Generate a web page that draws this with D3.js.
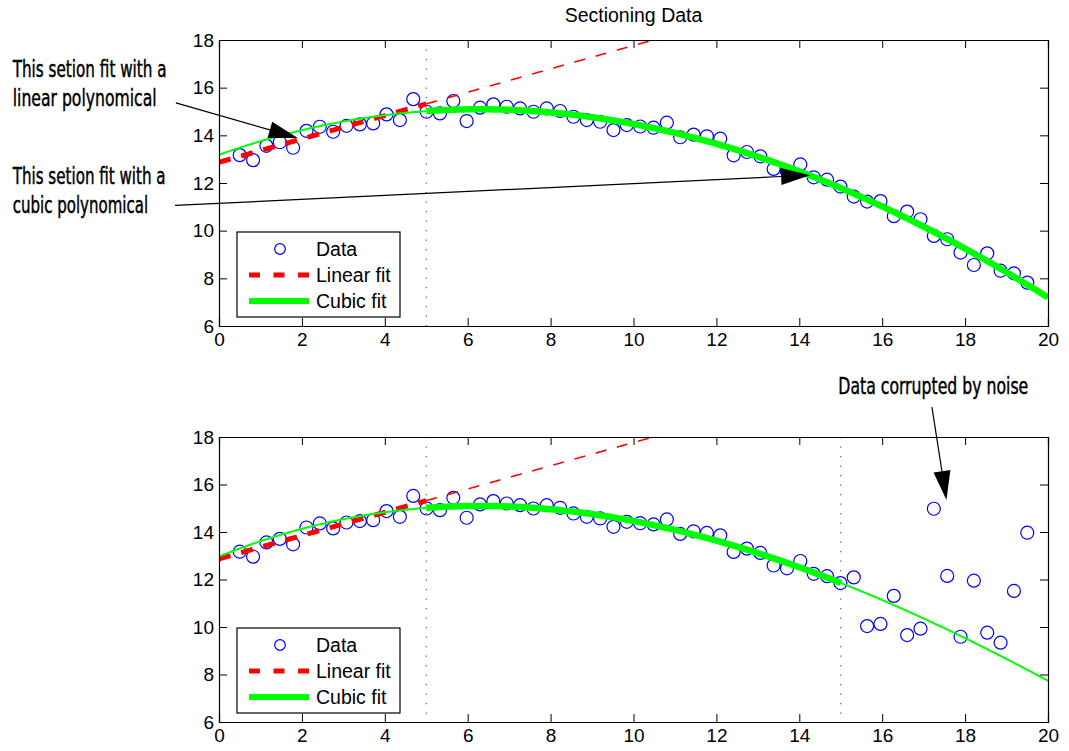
<!DOCTYPE html>
<html><head><meta charset="utf-8">
<script src="https://cdn.jsdelivr.net/npm/d3@7"></script>
<style>
html,body{margin:0;padding:0;background:#fff;}
svg{display:block;}
</style></head>
<body>
<svg id="chart" width="1069" height="751"></svg>
<script>
// ---------------- data ----------------
const xValues = [0.500,0.822,1.144,1.466,1.788,2.110,2.432,2.754,3.076,3.398,3.720,4.042,4.364,4.686,5.008,
  5.331,5.653,5.975,6.297,6.619,6.941,7.263,7.585,7.907,8.229,8.551,8.873,9.195,9.517,9.839,
  10.161,10.483,10.805,11.127,11.449,11.771,12.093,12.415,12.737,13.059,13.381,13.703,14.025,14.347,14.669,
  14.992,15.314,15.636,15.958,16.280,16.602,16.924,17.246,17.568,17.890,18.212,18.534,18.856,19.178,19.500];
const yClean = [13.17,12.96,13.56,13.71,13.48,14.19,14.36,14.15,14.40,14.46,14.50,14.88,14.64,15.52,14.99,
  14.92,15.44,14.60,15.16,15.30,15.20,15.13,14.99,15.13,15.02,14.78,14.64,14.57,14.22,14.43,
  14.37,14.32,14.53,13.92,14.03,13.96,13.86,13.16,13.30,13.12,12.59,12.47,12.78,12.24,12.14,
  11.85,11.43,11.22,11.24,10.61,10.80,10.48,9.78,9.64,9.08,8.56,9.05,8.32,8.21,7.82];
// bottom panel: same data up to x=15, noise afterwards
const yNoisyTail = [12.09,10.04,10.13,11.31,9.66,9.93,14.98,12.15,9.59,11.95,9.76,9.34,11.52,13.97];
const yNoisy = yClean.slice(0, 46).concat(yNoisyTail);

const xTicks = [0,2,4,6,8,10,12,14,16,18,20];
const yTicks = [6,8,10,12,14,16,18];
const legendLabels = ["Data","Linear fit","Cubic fit"];
const titleText = "Sectioning Data";

// ---------------- layout ----------------
const axLeft = 219, axRight = 1048;
const panels = [
  {top: 40, bottom: 326, y: yClean, cubicRange: [5, 20], sections: [5]},
  {top: 437, bottom: 722, y: yNoisy, cubicRange: [5, 15], sections: [5, 15]}
];
const FONT = "'Liberation Sans', Arial, Helvetica, sans-serif";
const NARROW = "'Liberation Sans Narrow', 'Arial Narrow', 'DejaVu Sans Condensed', sans-serif";

function polyfit(xs, ys, deg) {
  const n = deg + 1;
  const A = Array.from({length: n}, () => new Array(n).fill(0));
  const b = new Array(n).fill(0);
  xs.forEach((x, k) => {
    for (let i = 0; i < n; i++) {
      b[i] += ys[k] * Math.pow(x, i);
      for (let j = 0; j < n; j++) A[i][j] += Math.pow(x, i + j);
    }
  });
  for (let c = 0; c < n; c++) {
    let p = c;
    for (let r = c + 1; r < n; r++) if (Math.abs(A[r][c]) > Math.abs(A[p][c])) p = r;
    [A[c], A[p]] = [A[p], A[c]]; [b[c], b[p]] = [b[p], b[c]];
    for (let r = c + 1; r < n; r++) {
      const f = A[r][c] / A[c][c];
      for (let j = c; j < n; j++) A[r][j] -= f * A[c][j];
      b[r] -= f * b[c];
    }
  }
  const coef = new Array(n).fill(0);
  for (let i = n - 1; i >= 0; i--) {
    let s = b[i];
    for (let j = i + 1; j < n; j++) s -= A[i][j] * coef[j];
    coef[i] = s / A[i][i];
  }
  return x => coef.reduce((acc, c, i) => acc + c * Math.pow(x, i), 0);
}
function samples(a, b) { const s = d3.range(a, b, 0.05); s.push(b); return s; }

const svg = d3.select("#chart");

svg.append("text").attr("x", (axLeft + axRight) / 2).attr("y", 22)
  .attr("text-anchor", "middle").attr("font-family", FONT).attr("font-size", 19.5)
  .text(titleText);

panels.forEach((p, pi) => {
  const x = d3.scaleLinear().domain([0, 20]).range([axLeft, axRight]);
  const y = d3.scaleLinear().domain([6, 18]).range([p.bottom, p.top]);
  p.x = x; p.y_ = y;
  const g = svg.append("g");
  const clipId = "clip" + pi;
  svg.append("clipPath").attr("id", clipId).append("rect")
    .attr("x", axLeft).attr("y", p.top).attr("width", axRight - axLeft).attr("height", p.bottom - p.top);

  // section lines
  p.sections.forEach(s => {
    g.append("line").attr("x1", x(s)).attr("x2", x(s)).attr("y1", p.top).attr("y2", p.bottom)
      .attr("stroke", "#444").attr("stroke-width", 1).attr("stroke-dasharray", "1.3,8.2");
  });

  const plot = g.append("g").attr("clip-path", `url(#${clipId})`);
  // data
  plot.selectAll("circle").data(xValues.map((xv, i) => [xv, p.y[i]])).join("circle")
    .attr("cx", d => x(d[0])).attr("cy", d => y(d[1])).attr("r", 6.5)
    .attr("fill", "none").attr("stroke", "#0000ff").attr("stroke-width", 1.2);

  // linear fit on x<5
  const linIdx = xValues.map((v, i) => i).filter(i => xValues[i] < 5);
  const lin = polyfit(linIdx.map(i => xValues[i]), linIdx.map(i => p.y[i]), 1);
  const line = d3.line().x(d => x(d)).y(d => y(lin(d)));
  plot.append("path").attr("d", line(samples(5, 20))).attr("fill", "none")
    .attr("stroke", "#ff0000").attr("stroke-width", 1.6).attr("stroke-dasharray", "11,11");
  plot.append("path").attr("d", line(samples(0, 5))).attr("fill", "none")
    .attr("stroke", "#ff0000").attr("stroke-width", 5).attr("stroke-dasharray", "12,11");

  // cubic fit
  const [c0, c1] = p.cubicRange;
  const cubIdx = xValues.map((v, i) => i).filter(i => xValues[i] >= c0 && xValues[i] <= c1);
  const cub = polyfit(cubIdx.map(i => xValues[i]), cubIdx.map(i => p.y[i]), 3);
  const cline = d3.line().x(d => x(d)).y(d => y(cub(d)));
  plot.append("path").attr("d", cline(samples(0, c0))).attr("fill", "none")
    .attr("stroke", "#00ff00").attr("stroke-width", 2);
  if (c1 < 20) plot.append("path").attr("d", cline(samples(c1, 20))).attr("fill", "none")
    .attr("stroke", "#00ff00").attr("stroke-width", 2);
  plot.append("path").attr("d", cline(samples(c0, c1))).attr("fill", "none")
    .attr("stroke", "#00ff00").attr("stroke-width", 6.5);

  // axes
  const tick = 8;
  const axB = g.append("g").attr("transform", `translate(0,${p.bottom})`)
    .call(d3.axisBottom(x).tickValues(xTicks).tickSize(-tick).tickPadding(7).tickFormat(d3.format("d")));
  const axT = g.append("g").attr("transform", `translate(0,${p.top})`)
    .call(d3.axisTop(x).tickValues(xTicks).tickSize(-tick).tickFormat(""));
  const axL = g.append("g").attr("transform", `translate(${axLeft},0)`)
    .call(d3.axisLeft(y).tickValues(yTicks).tickSize(-tick).tickPadding(5).tickFormat(d3.format("d")));
  const axR = g.append("g").attr("transform", `translate(${axRight},0)`)
    .call(d3.axisRight(y).tickValues(yTicks).tickSize(-tick).tickFormat(""));
  [axB, axT, axL, axR].forEach(a => {
    a.selectAll("path.domain").attr("stroke", "#000").attr("stroke-width", 1.2);
    a.selectAll(".tick line").attr("stroke", "#000").attr("stroke-width", 1);
    a.selectAll("text").attr("font-family", FONT).attr("font-size", 19).attr("fill", "#000");
  });

  // legend
  const lx = axLeft + 18, ly = p.bottom - 94;
  const lg = g.append("g");
  lg.append("rect").attr("x", lx).attr("y", ly).attr("width", 163).attr("height", 85)
    .attr("fill", "#fff").attr("stroke", "#000").attr("stroke-width", 1.2);
  const rows = [ly + 17, ly + 43, ly + 69];
  lg.append("circle").attr("cx", lx + 43).attr("cy", rows[0]).attr("r", 5.3)
    .attr("fill", "none").attr("stroke", "#0000ff").attr("stroke-width", 1.2);
  lg.append("line").attr("x1", lx + 12).attr("x2", lx + 72).attr("y1", rows[1]).attr("y2", rows[1])
    .attr("stroke", "#ff0000").attr("stroke-width", 5).attr("stroke-dasharray", "11,13.5");
  lg.append("line").attr("x1", lx + 12).attr("x2", lx + 72).attr("y1", rows[2]).attr("y2", rows[2])
    .attr("stroke", "#00ff00").attr("stroke-width", 6);
  legendLabels.forEach((t, i) => {
    lg.append("text").attr("x", lx + 79).attr("y", rows[i] + 7).attr("font-family", FONT)
      .attr("font-size", 19.5).text(t);
  });
});

// ---------------- annotations ----------------
const notes = [
  {lines: ["This setion fit with a", "linear polynomical"], x: 12.7, ys: [77, 106], widths: [154, 144],
   panel: 0, from: [-1.04, 15.36], to: [1.90, 13.89]},
  {lines: ["This setion fit with a", "cubic polynomical"], x: 12.7, ys: [184, 213], widths: [153, 135.5],
   panel: 0, from: [-1.06, 11.06], to: [14.26, 12.33]},
  {lines: ["Data corrupted by noise"], x: 838.3, ys: [394], widths: [190],
   panel: 1, from: [17.20, 19.26], to: [17.55, 15.35]}
];
const ann = svg.append("g");
notes.forEach(n => {
  n.lines.forEach((t, i) => {
    const tx = ann.append("text").attr("font-family", NARROW)
      .attr("font-size", 23).attr("stroke", "#000").attr("stroke-width", 0.45)
      .text(t);
    const natural = tx.node().getComputedTextLength();
    const sx = natural > 0 ? n.widths[i] / natural : 1;
    tx.attr("transform", `translate(${n.x},${n.ys[i]}) scale(${sx},1)`);
  });
  const p = panels[n.panel];
  const x0 = p.x(n.from[0]), y0 = p.y_(n.from[1]), x1 = p.x(n.to[0]), y1 = p.y_(n.to[1]);
  const len = Math.hypot(x1 - x0, y1 - y0), ux = (x1 - x0) / len, uy = (y1 - y0) / len;
  const L = 29, Wd = 8.5;
  const bx = x1 - ux * L, by = y1 - uy * L;
  ann.append("line").attr("x1", x0).attr("y1", y0).attr("x2", bx).attr("y2", by)
    .attr("stroke", "#000").attr("stroke-width", 1.2);
  ann.append("path").attr("d", `M${x1},${y1}L${bx - uy * Wd},${by + ux * Wd}L${bx + uy * Wd},${by - ux * Wd}Z`)
    .attr("fill", "#000");
});
</script>
</body></html>
